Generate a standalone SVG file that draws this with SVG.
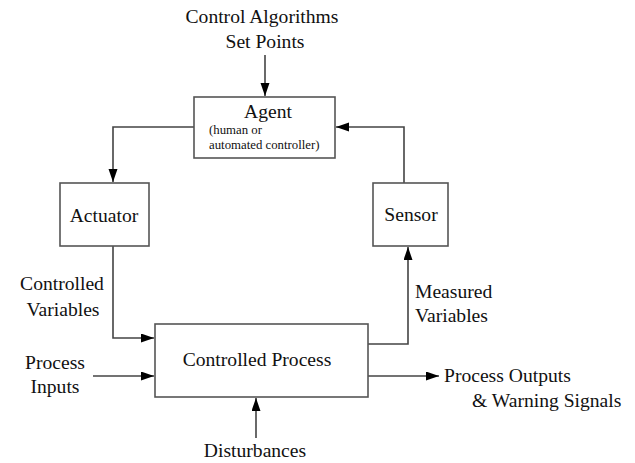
<svg xmlns="http://www.w3.org/2000/svg" width="635" height="463" viewBox="0 0 635 463">
<style>
  .box{fill:#fff;stroke:#555;stroke-width:1.6}
  .ln{fill:none;stroke:#444;stroke-width:1.6}
  .t{font-family:'Liberation Serif','Times New Roman',Times,serif;fill:#111;font-size:19.6px}
  .sm{font-size:12.8px}
  .mid{text-anchor:middle}
</style>
<defs>
  <marker id="ah" markerUnits="userSpaceOnUse" markerWidth="14" markerHeight="10" refX="13" refY="4.5" orient="auto">
    <path d="M0,0 L13,4.5 L0,9 z" fill="#000"/>
  </marker>
</defs>
<g id="connectors">
  <path class="ln" d="M265,55 L265,96" marker-end="url(#ah)"/>
  <path class="ln" d="M194,127 L113,127 L113,182" marker-end="url(#ah)"/>
  <path class="ln" d="M113,246 L113,338 L154,338" marker-end="url(#ah)"/>
  <path class="ln" d="M368,344 L408,344 L408,247" marker-end="url(#ah)"/>
  <path class="ln" d="M404,183 L404,127 L336,127" marker-end="url(#ah)"/>
  <path class="ln" d="M93,376 L154,376" marker-end="url(#ah)"/>
  <path class="ln" d="M368,376 L439,376" marker-end="url(#ah)"/>
  <path class="ln" d="M256,438 L256,398" marker-end="url(#ah)"/>
</g>
<g class="t" font-family="Liberation Serif, serif">
<g id="inputs-top">
  <text class="mid" x="262" y="23">Control Algorithms</text>
  <text class="mid" x="265" y="48">Set Points</text>
</g>
<g id="agent">
  <rect class="box" x="194" y="97" width="141" height="61"/>
  <text class="mid" x="268" y="118">Agent</text>
  <text class="sm" x="209" y="134">(human or</text>
  <text class="sm" x="209" y="149">automated controller)</text>
</g>
<g id="actuator">
  <rect class="box" x="60" y="183" width="89" height="63"/>
  <text class="mid" x="104" y="222">Actuator</text>
</g>
<g id="sensor">
  <rect class="box" x="373" y="183" width="75" height="63"/>
  <text class="mid" x="411" y="221">Sensor</text>
</g>
<g id="controlled-process">
  <rect class="box" x="155" y="324" width="213" height="73"/>
  <text class="mid" x="257" y="366">Controlled Process</text>
</g>
<g id="labels">
  <text class="mid" x="62" y="290">Controlled</text>
  <text class="mid" x="63" y="316">Variables</text>
  <text x="415" y="298">Measured</text>
  <text x="415" y="322">Variables</text>
  <text class="mid" x="55" y="369">Process</text>
  <text class="mid" x="55" y="393">Inputs</text>
  <text x="444" y="382">Process Outputs</text>
  <text x="472" y="407">&amp; Warning Signals</text>
  <text class="mid" x="255" y="457">Disturbances</text>
</g>
</g>
</svg>
